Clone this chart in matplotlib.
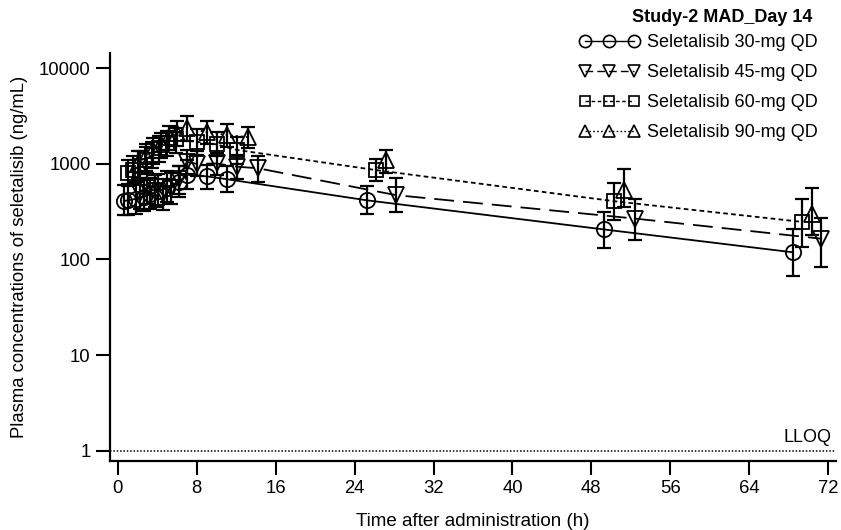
import numpy as np
import matplotlib
matplotlib.use("Agg")
import matplotlib.pyplot as plt
from matplotlib.lines import Line2D

plt.rcParams['font.family'] = ['Liberation Sans', 'DejaVu Sans']

# ---------------- data ----------------
labels = ["Seletalisib 30-mg QD", "Seletalisib 45-mg QD",
          "Seletalisib 60-mg QD", "Seletalisib 90-mg QD"]
legend_title = "Study-2 MAD_Day 14"

t30 = [0.6, 1.0, 1.8, 2.6, 3.3, 4.1, 5.0, 6.2, 7.0, 9.0, 11.1, 25.3, 49.3, 68.4]
c30 = [410, 415, 430, 455, 480, 520, 560, 640, 770, 740, 690, 415, 206, 119]
h30 = [600, 610, 640, 680, 720, 780, 840, 950, 1100, 980, 950, 590, 317, 210]
l30 = [290, 295, 300, 320, 340, 370, 400, 450, 540, 545, 512, 300, 132, 67]

t45 = [2.2, 3.0, 3.8, 4.6, 5.4, 6.2, 7.0, 8.0, 10.0, 12.05, 14.2, 28.2, 52.4, 71.3]
c45 = [500, 560, 520, 480, 560, 700, 1050, 1000, 1010, 935, 900, 471, 268, 165]
h45 = [720, 800, 760, 700, 800, 950, 1400, 1350, 1300, 1250, 1200, 708, 428, 274]
l45 = [340, 380, 350, 330, 380, 480, 780, 740, 760, 700, 650, 317, 158, 83]

t60 = [1.0, 1.5, 2.2, 2.8, 3.5, 4.2, 5.0, 5.9, 8.0, 10.0, 12.05, 26.2, 50.3, 69.4]
c60 = [800, 860, 950, 1100, 1250, 1450, 1650, 1800, 1700, 1600, 1400, 860, 407, 247]
h60 = [1100, 1200, 1350, 1500, 1700, 1950, 2200, 2400, 2300, 2150, 1900, 1120, 626, 428]
l60 = [580, 620, 680, 780, 900, 1050, 1200, 1300, 1250, 1200, 1000, 658, 257, 135]

t90 = [2.0, 2.8, 3.6, 4.4, 5.2, 6.0, 7.0, 9.0, 11.1, 13.2, 27.2, 51.3, 70.4]
c90 = [1000, 1200, 1400, 1600, 1900, 2100, 2400, 2150, 2000, 1900, 1100, 532, 300]
h90 = [1350, 1600, 1850, 2100, 2500, 2800, 3200, 2800, 2600, 2450, 1400, 880, 555]
l90 = [700, 850, 1000, 1150, 1400, 1550, 1750, 1600, 1500, 1450, 800, 350, 180]

x_ticks = [0, 8, 16, 24, 32, 40, 48, 56, 64, 72]
y_ticks = [1, 10, 100, 1000, 10000]
y_ticklabels = ["1", "10", "100", "1000", "10000"]
lloq = 1

# ---------------- figure ----------------
W, H = 841, 530
fig = plt.figure(figsize=(W / 100, H / 100), dpi=100)
ax = fig.add_axes([110 / W, (H - 461) / H, (836 - 110) / W, (461 - 53) / H])

styles = [
    dict(marker='o', ms=11, ls='-', dashes=None, line_until=None),
    dict(marker='v', ms=11, ls='--', dashes=(11, 5), line_until=None),
    dict(marker='s', ms=9.5, ls='--', dashes=(2.6, 1.8), line_until=None),
    dict(marker='^', ms=11, ls=':', dashes=(1.2, 1.6), line_until=14),
]
series = [(t30, c30, h30, l30), (t45, c45, h45, l45),
          (t60, c60, h60, l60), (t90, c90, h90, l90)]

handles = []
for (t, c, hi, lo), st, lab in zip(series, styles, labels):
    t = np.asarray(t); c = np.asarray(c); hi = np.asarray(hi); lo = np.asarray(lo)
    m = np.ones_like(t, dtype=bool) if st['line_until'] is None else t <= st['line_until']
    ln, = ax.plot(t[m], c[m], color='black', lw=1.3, ls=st['ls'], zorder=2)
    if st['dashes'] is not None:
        ln.set_dashes(st['dashes'])
    ax.errorbar(t, c, yerr=[c - lo, hi - c], fmt='none', ecolor='black',
                elinewidth=1.6, capsize=5, capthick=1.6, zorder=3)
    ax.plot(t, c, ls='none', marker=st['marker'], ms=st['ms'], mfc='none',
            mec='black', mew=1.3, zorder=4)
    h = Line2D([], [], color='black', lw=1.0, ls=st['ls'], marker=st['marker'],
               ms=st['ms'] * 0.8, mfc='none', mec='black', mew=1.2)
    if st['dashes'] is not None:
        h.set_dashes((st['dashes'][0] * 0.5, st['dashes'][1] * 0.6) if st['marker'] == 'v' else st['dashes'])
    handles.append(h)

# LLOQ line
ax.axhline(lloq, color='black', lw=1.1, ls=(0, (1, 1.2)), zorder=1)
ax.text(72.3, 1.12, "LLOQ", ha='right', va='bottom', fontsize=13)

ax.set_yscale('log')
ax.set_xlim(-0.8, 72.8)
ax.set_ylim(0.78, 14450)
ax.set_xticks(x_ticks)
ax.set_xticklabels([str(v) for v in x_ticks])
ax.set_yticks(y_ticks)
ax.set_yticklabels(y_ticklabels)
ax.yaxis.set_minor_locator(matplotlib.ticker.NullLocator())

for s in ['top', 'right']:
    ax.spines[s].set_visible(False)
for s in ['left', 'bottom']:
    ax.spines[s].set_linewidth(1.6)
ax.tick_params(axis='both', direction='out', length=10, width=1.5,
               labelsize=13.3, pad=4)

ax.set_xlabel("Time after administration (h)", fontsize=13.5, labelpad=11)
ax.set_ylabel("Plasma concentrations of seletalisib (ng/mL)", fontsize=13.3,
              labelpad=8)

leg = fig.legend(handles, labels, loc='upper right',
                 bbox_to_anchor=(818 / W, 1 - 34 / H), frameon=False,
                 numpoints=3, handlelength=3.3, handletextpad=0.45,
                 labelspacing=0.72, fontsize=13, borderpad=0,
                 borderaxespad=0)
fig.text(722 / W, 1 - 18 / H, legend_title, ha='center', va='center',
         fontsize=13, fontweight='bold')

fig.savefig("out.png", dpi=100)
